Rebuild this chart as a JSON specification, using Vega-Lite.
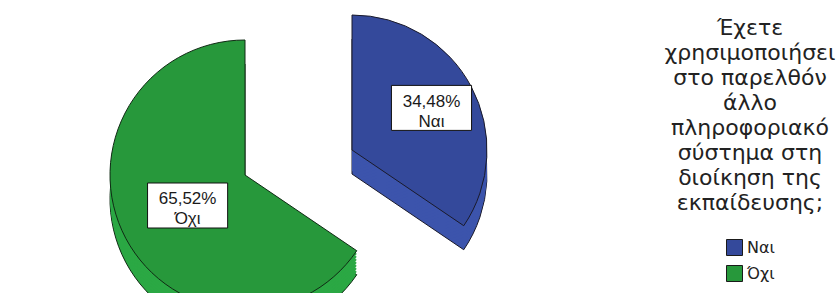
{
  "$schema": "https://vega.github.io/schema/vega-lite/v6.json",
  "width": 490,
  "height": 293,
  "autosize": {"type": "none"},
  "padding": {"left": 0, "top": 0, "right": 348, "bottom": 0},
  "background": "white",
  "config": {"view": {"stroke": null}, "font": "Liberation Sans"},
  "data": {
    "values": [
      {"cat": "Ναι", "pct": 34.48, "lines": ["34,48%", "Ναι"]},
      {"cat": "Όχι", "pct": 65.52, "lines": ["65,52%", "Όχι"]}
    ]
  },
  "layer": [
    {
      "encoding": {
        "theta": {"field": "pct", "type": "quantitative", "stack": true},
        "order": {"field": "pct", "type": "quantitative"}
      },
      "layer": [
        {"mark": {"type": "arc", "outerRadius": 135, "xOffset": 107, "yOffset": 27.5, "fill": "#3C54AC", "stroke": "#1a1a2a", "strokeWidth": 1},
         "encoding": {"opacity": {"condition": {"test": "datum.cat === 'Ναι'", "value": 1}, "value": 0}}},
        {"mark": {"type": "arc", "outerRadius": 135, "xOffset": 107, "yOffset": 24.5, "fill": "#3C54AC"},
         "encoding": {"opacity": {"condition": {"test": "datum.cat === 'Ναι'", "value": 1}, "value": 0}}},
        {"mark": {"type": "arc", "outerRadius": 135, "xOffset": 107, "yOffset": 21.5, "fill": "#3C54AC"},
         "encoding": {"opacity": {"condition": {"test": "datum.cat === 'Ναι'", "value": 1}, "value": 0}}},
        {"mark": {"type": "arc", "outerRadius": 135, "xOffset": 107, "yOffset": 18.5, "fill": "#3C54AC"},
         "encoding": {"opacity": {"condition": {"test": "datum.cat === 'Ναι'", "value": 1}, "value": 0}}},
        {"mark": {"type": "arc", "outerRadius": 135, "xOffset": 107, "yOffset": 15.5, "fill": "#3C54AC"},
         "encoding": {"opacity": {"condition": {"test": "datum.cat === 'Ναι'", "value": 1}, "value": 0}}},
        {"mark": {"type": "arc", "outerRadius": 135, "xOffset": 107, "yOffset": 12.5, "fill": "#3C54AC"},
         "encoding": {"opacity": {"condition": {"test": "datum.cat === 'Ναι'", "value": 1}, "value": 0}}},
        {"mark": {"type": "arc", "outerRadius": 135, "xOffset": 107, "yOffset": 9.5, "fill": "#3C54AC"},
         "encoding": {"opacity": {"condition": {"test": "datum.cat === 'Ναι'", "value": 1}, "value": 0}}},
        {"mark": {"type": "arc", "outerRadius": 135, "xOffset": 107, "yOffset": 6.5, "fill": "#3C54AC"},
         "encoding": {"opacity": {"condition": {"test": "datum.cat === 'Ναι'", "value": 1}, "value": 0}}},
        {"mark": {"type": "arc", "outerRadius": 135, "xOffset": 107, "yOffset": 3.5, "stroke": "#1a1a2a", "strokeWidth": 1},
         "encoding": {
           "opacity": {"condition": {"test": "datum.cat === 'Ναι'", "value": 1}, "value": 0},
           "color": {"field": "cat", "type": "nominal",
             "scale": {"domain": ["Ναι", "Όχι"], "range": ["#34499B", "#27983B"]},
             "legend": {
               "orient": "none", "legendX": 665, "legendY": 18, "padding": 0,
               "title": ["Έχετε", "χρησιμοποιήσει", "στο παρελθόν", "άλλο", "πληροφοριακό", "σύστημα στη", "διοίκηση της", "εκπαίδευσης;"],
               "titleFont": "DejaVu Sans", "titleFontSize": 22, "titleFontWeight": "normal", "titleColor": "#222222",
               "titleLineHeight": 25, "titleAnchor": "middle", "titleAlign": "center", "titlePadding": 24, "titleLimit": 400,
               "symbolType": "square", "symbolSize": 256, "symbolStrokeColor": "#1a1a1a", "symbolStrokeWidth": 1,
               "symbolOffset": 1, "labelOffset": 4, "labelFont": "DejaVu Sans", "labelFontSize": 16, "labelColor": "#222222",
               "rowPadding": 5
             }}
         }},
        {"mark": {"type": "arc", "outerRadius": 135, "yOffset": 52.5, "fill": "#2BA844", "stroke": "#102a14", "strokeWidth": 1},
         "encoding": {"opacity": {"condition": {"test": "datum.cat === 'Όχι'", "value": 1}, "value": 0}}},
        {"mark": {"type": "arc", "outerRadius": 135, "yOffset": 49.5, "fill": "#2BA844"},
         "encoding": {"opacity": {"condition": {"test": "datum.cat === 'Όχι'", "value": 1}, "value": 0}}},
        {"mark": {"type": "arc", "outerRadius": 135, "yOffset": 46.5, "fill": "#2BA844"},
         "encoding": {"opacity": {"condition": {"test": "datum.cat === 'Όχι'", "value": 1}, "value": 0}}},
        {"mark": {"type": "arc", "outerRadius": 135, "yOffset": 43.5, "fill": "#2BA844"},
         "encoding": {"opacity": {"condition": {"test": "datum.cat === 'Όχι'", "value": 1}, "value": 0}}},
        {"mark": {"type": "arc", "outerRadius": 135, "yOffset": 40.5, "fill": "#2BA844"},
         "encoding": {"opacity": {"condition": {"test": "datum.cat === 'Όχι'", "value": 1}, "value": 0}}},
        {"mark": {"type": "arc", "outerRadius": 135, "yOffset": 37.5, "fill": "#2BA844"},
         "encoding": {"opacity": {"condition": {"test": "datum.cat === 'Όχι'", "value": 1}, "value": 0}}},
        {"mark": {"type": "arc", "outerRadius": 135, "yOffset": 34.5, "fill": "#2BA844"},
         "encoding": {"opacity": {"condition": {"test": "datum.cat === 'Όχι'", "value": 1}, "value": 0}}},
        {"mark": {"type": "arc", "outerRadius": 135, "yOffset": 31.5, "fill": "#2BA844"},
         "encoding": {"opacity": {"condition": {"test": "datum.cat === 'Όχι'", "value": 1}, "value": 0}}},
        {"mark": {"type": "arc", "outerRadius": 135, "yOffset": 28.5, "stroke": "#102a14", "strokeWidth": 1},
         "encoding": {
           "opacity": {"condition": {"test": "datum.cat === 'Όχι'", "value": 1}, "value": 0},
           "color": {"field": "cat", "type": "nominal"}
         }}
      ]
    },
    {
      "transform": [{"filter": "datum.cat === 'Ναι'"}],
      "mark": {"type": "point", "shape": "M-1.78,-1H1.78V1H-1.78Z", "size": 2025, "filled": true, "fill": "white", "stroke": "#111111", "strokeWidth": 1, "opacity": 1, "xOffset": 186.5, "yOffset": -38.6}
    },
    {
      "transform": [{"filter": "datum.cat === 'Όχι'"}],
      "mark": {"type": "point", "shape": "M-1.78,-1H1.78V1H-1.78Z", "size": 2025, "filled": true, "fill": "white", "stroke": "#111111", "strokeWidth": 1, "opacity": 1, "xOffset": -57.4, "yOffset": 59}
    },
    {
      "encoding": {
        "theta": {"field": "pct", "type": "quantitative", "stack": true},
        "order": {"field": "pct", "type": "quantitative"},
        "text": {"field": "lines", "type": "nominal"}
      },
      "layer": [
        {"mark": {"type": "text", "radius": 90, "xOffset": 107, "yOffset": 3.5, "dy": -6, "fontSize": 17, "lineHeight": 20, "align": "center", "baseline": "middle", "fill": "#1a1a1a"},
         "encoding": {"opacity": {"condition": {"test": "datum.cat === 'Ναι'", "value": 1}, "value": 0}}},
        {"mark": {"type": "text", "radius": 65, "yOffset": 28.5, "dy": -6, "fontSize": 17, "lineHeight": 20, "align": "center", "baseline": "middle", "fill": "#1a1a1a"},
         "encoding": {"opacity": {"condition": {"test": "datum.cat === 'Όχι'", "value": 1}, "value": 0}}}
      ]
    }
  ]
}
